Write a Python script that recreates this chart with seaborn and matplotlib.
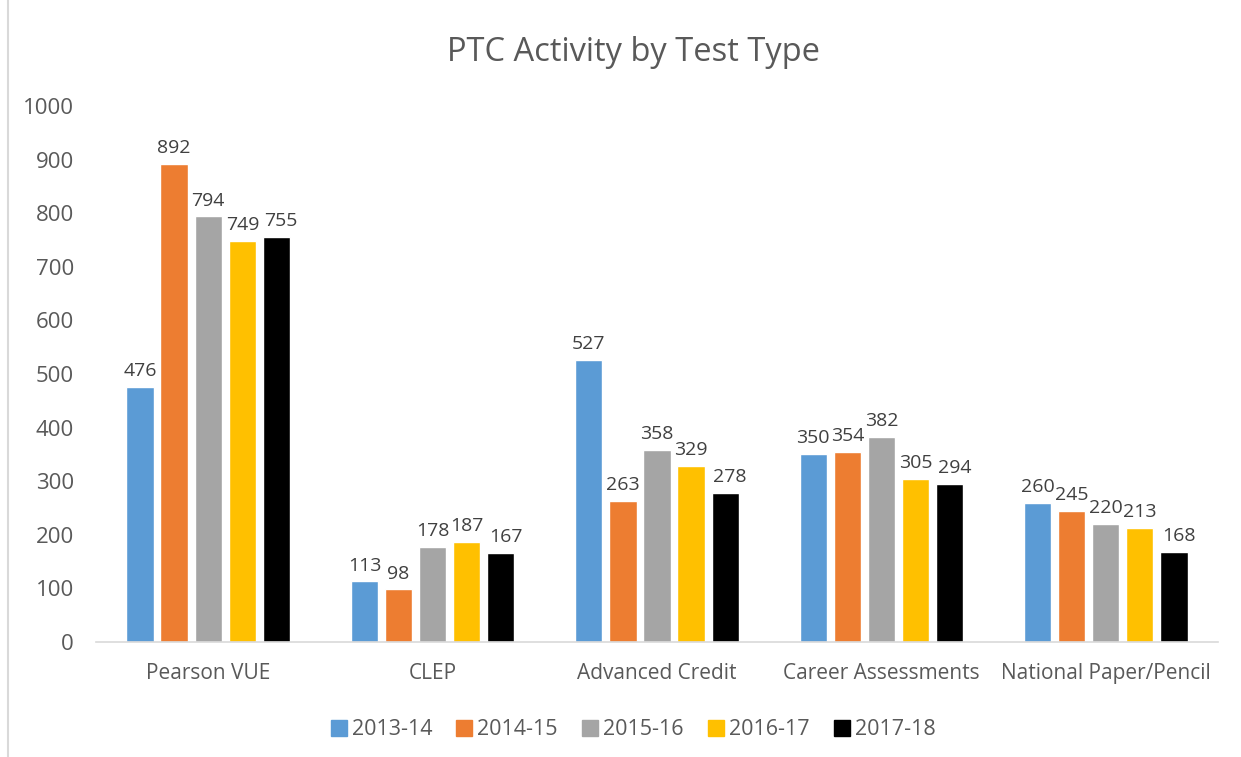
import matplotlib
matplotlib.use("Agg")
import matplotlib.pyplot as plt
import pandas as pd
import seaborn as sns
from matplotlib.lines import Line2D

categories = ["Pearson VUE", "CLEP", "Advanced Credit", "Career Assessments", "National Paper/Pencil"]
years = ["2013-14", "2014-15", "2015-16", "2016-17", "2017-18"]
y2013 = [476, 113, 527, 350, 260]
y2014 = [892, 98, 263, 354, 245]
y2015 = [794, 178, 358, 382, 220]
y2016 = [749, 187, 329, 305, 213]
y2017 = [755, 167, 278, 294, 168]
colors = ["#5B9BD5", "#ED7D31", "#A5A5A5", "#FFC000", "#000000"]

rows = []
for yr, vals in zip(years, [y2013, y2014, y2015, y2016, y2017]):
    for cat, v in zip(categories, vals):
        rows.append({"Test": cat, "Year": yr, "Count": v})
df = pd.DataFrame(rows)

sns.set_theme(style="white")
plt.rcParams["font.family"] = ["Open Sans", "DejaVu Sans"]
text_color = "#595959"

fig = plt.figure(figsize=(12.41, 7.57), dpi=100)
ax = fig.add_axes([0.0774, 0.1519, 0.904, 0.708])

sns.barplot(
    data=df, x="Test", y="Count", hue="Year", order=categories, hue_order=years,
    palette=colors, width=0.76, gap=0.2, ax=ax, legend=False, saturation=1,
)

# data labels; the last series sits a bit to the right like Excel does
for i, cont in enumerate(ax.containers):
    labels = ax.bar_label(cont, padding=5, fontsize=14, color="#404040")
    if i == len(ax.containers) - 1:
        for t in labels:
            t.xyann = (3.5, t.xyann[1])

ax.set_ylim(0, 1000)
ax.set_yticks(range(0, 1001, 100))
ax.set_xlim(-0.5, len(categories) - 0.5)
ax.set_xlabel("")
ax.set_ylabel("")
ax.tick_params(axis="both", length=0, labelsize=16, colors=text_color)
ax.tick_params(axis="x", pad=15, labelsize=15)
ax.tick_params(axis="y", pad=16)
for side in ["top", "right", "left"]:
    ax.spines[side].set_visible(False)
ax.spines["bottom"].set_color("#D9D9D9")
ax.spines["bottom"].set_linewidth(1.2)

fig.suptitle("PTC Activity by Test Type", x=0.5105, y=0.952, fontsize=23.5, color=text_color)

handles = [Line2D([0], [0], marker="s", linestyle="", markersize=11,
                  markerfacecolor=c, markeredgecolor=c) for c in colors]
fig.legend(handles, years, loc="center", bbox_to_anchor=(0.509, 0.036), ncol=5,
           frameon=False, fontsize=15.5, handletextpad=0.1, columnspacing=1.0,
           labelcolor=text_color, handlelength=1.0)

fig.add_artist(Line2D([0.0065, 0.0065], [0.0, 1.0], color="#D9D9D9", linewidth=1.5,
                      transform=fig.transFigure))

fig.savefig("out.png", dpi=100)
